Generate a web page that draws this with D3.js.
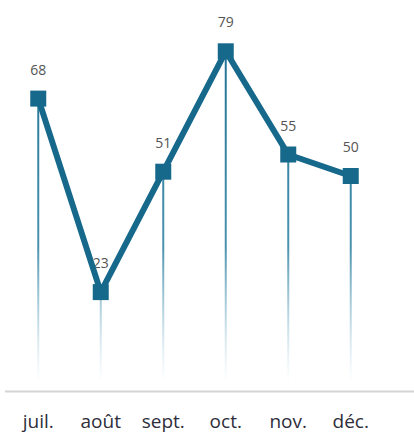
<!DOCTYPE html>
<html>
<head>
<meta charset="utf-8">
<script src="https://cdn.jsdelivr.net/npm/d3@7"></script>
<style>
  html, body { margin: 0; padding: 0; background: #fff; }
  svg { display: block; }
</style>
</head>
<body>
<svg width="414" height="434"></svg>
<script>
'use strict';

const months = ["juil.", "août", "sept.", "oct.", "nov.", "déc."];
const values = [68, 23, 51, 79, 55, 50];

const svg = d3.select("svg");
const width = 414;
const height = 434;
const lineColor = "#17698c";

const x = d3.scaleBand()
  .domain(months)
  .range([7, 382]);

const y = d3.scaleLinear()
  .domain([0, 90])
  .range([391, 4]);

const data = months.map((m, i) => ({month: m, value: values[i]}));
const cx = d => x(d.month) + x.bandwidth() / 2;

// fading gradient for the drop lines
const grad = svg.append("defs").append("linearGradient")
  .attr("id", "fade")
  .attr("gradientUnits", "userSpaceOnUse")
  .attr("x1", 0).attr("x2", 0)
  .attr("y1", y(80)).attr("y2", y(2));
grad.append("stop").attr("offset", 0).attr("stop-color", "#1f7295").attr("stop-opacity", 1);
grad.append("stop").attr("offset", 0.6).attr("stop-color", "#2c7fa0").attr("stop-opacity", 0.85);
grad.append("stop").attr("offset", 1).attr("stop-color", "#8dbfd3").attr("stop-opacity", 0);

// baseline
svg.append("line")
  .attr("x1", 5).attr("x2", width)
  .attr("y1", y(0) + 0.5).attr("y2", y(0) + 0.5)
  .attr("stroke", "#d4d4d4")
  .attr("stroke-width", 2);

// drop lines
svg.selectAll(".drop")
  .data(data)
  .join("line")
  .attr("class", "drop")
  .attr("x1", cx).attr("x2", cx)
  .attr("y1", d => y(d.value))
  .attr("y2", y(0) - 2)
  .attr("stroke", "url(#fade)")
  .attr("stroke-width", 2);

// value labels (drawn under the line, like the original)
svg.selectAll(".label")
  .data(data)
  .join("text")
  .attr("class", "label")
  .attr("x", cx)
  .attr("y", d => y(d.value) - 24)
  .attr("text-anchor", "middle")
  .attr("font-family", "Open Sans, sans-serif")
  .attr("font-size", 14)
  .attr("fill", "#555")
  .text(d => d.value);

// main line
const line = d3.line()
  .x(cx)
  .y(d => y(d.value));

svg.append("path")
  .datum(data)
  .attr("d", line)
  .attr("fill", "none")
  .attr("stroke", lineColor)
  .attr("stroke-width", 6)
  .attr("stroke-linejoin", "round");

// square markers
const ms = 16;
svg.selectAll(".marker")
  .data(data)
  .join("rect")
  .attr("class", "marker")
  .attr("x", d => cx(d) - ms / 2)
  .attr("y", d => y(d.value) - ms / 2)
  .attr("width", ms)
  .attr("height", ms)
  .attr("fill", lineColor);

// category axis
const axis = svg.append("g")
  .attr("transform", `translate(0,${y(0)})`)
  .call(d3.axisBottom(x).tickSize(0).tickPadding(24));
axis.select(".domain").remove();
axis.selectAll("text")
  .attr("font-family", "Open Sans, sans-serif")
  .attr("font-size", 19)
  .attr("font-weight", 500)
  .attr("fill", "#2e2e3a");
</script>
</body>
</html>
